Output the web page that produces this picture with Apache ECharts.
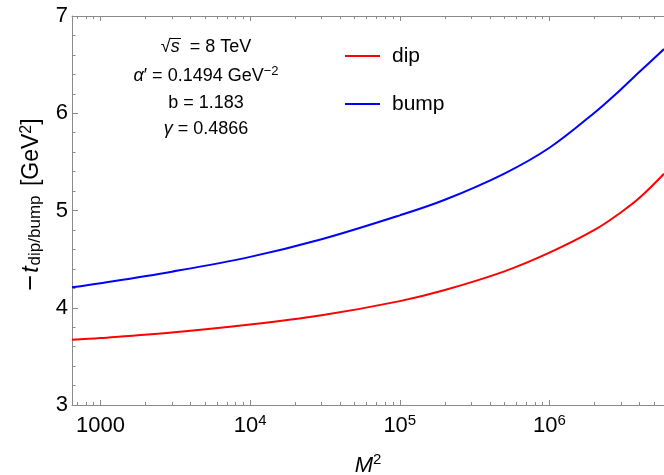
<!DOCTYPE html>
<html><head><meta charset="utf-8">
<script src="https://cdn.jsdelivr.net/npm/echarts@6/dist/echarts.min.js"></script>
<style>html,body{margin:0;padding:0;background:#fff}#c{width:664px;height:475px}</style>
</head><body><div id="c"></div>
<script>
// ---- data ----
const M2   = [645, 1000, 3000, 1e4, 3e4, 1e5, 2e5, 5e5, 1e6, 2e6, 3e6, 4e6, 5.83e6];
const dip  = [3.67, 3.689, 3.746, 3.827, 3.922, 4.068, 4.182, 4.374, 4.566, 4.80, 4.98, 5.13, 5.378];
const bump = [4.21, 4.252, 4.371, 4.523, 4.704, 4.950, 5.11, 5.38, 5.645, 6.006, 6.245, 6.426, 6.66];
const xMajorTicks = [1000, 10000, 100000, 1000000];
const xMinorTicks = [700, 800, 900,
  2000, 3000, 4000, 5000, 6000, 7000, 8000, 9000,
  20000, 30000, 40000, 50000, 60000, 70000, 80000, 90000,
  200000, 300000, 400000, 500000, 600000, 700000, 800000, 900000,
  2000000, 3000000, 4000000, 5000000];
const yTickLabels = ['3', '4', '5', '6', '7'];
const X_MIN = 645, X_MAX = 5.83e6;

const font = '"Liberation Sans", Arial, sans-serif';
const gray = '#8a8a8a';

function xLabel(v) {
  const e = Math.round(Math.log10(v));
  if (e === 3) return '{n|1000}';
  return '{n|10}{s|' + e + '}';
}
const xRich = {
  n: { fontSize: 22, lineHeight: 30, fontFamily: font, color: '#000' },
  s: { fontSize: 15, lineHeight: 14, padding: [0, 0, 10, 0], fontFamily: font, color: '#000' }
};
function logAxis(extra) {
  return Object.assign({
    type: 'log', logBase: 10, min: X_MIN, max: X_MAX, gridIndex: 0,
    splitLine: { show: false }, minorTick: { show: false }, minorSplitLine: { show: false }
  }, extra);
}

const chart = echarts.init(document.getElementById('c'), null, { renderer: 'canvas' });
chart.setOption({
  animation: false,
  backgroundColor: '#fff',
  grid: { left: 72, top: 16, right: 0, bottom: 70, outerBoundsMode: 'none', containLabel: false },
  legend: {
    orient: 'vertical', left: 340, top: 39, selectedMode: false,
    icon: 'rect', itemWidth: 35, itemHeight: 2, itemGap: 24,
    textStyle: { fontSize: 21, lineHeight: 24, fontFamily: font, color: '#000', padding: [0, 0, 0, 7] },
    data: ['dip', 'bump']
  },
  xAxis: [
    logAxis({
      position: 'bottom',
      axisLine: { show: true, lineStyle: { color: gray, width: 1 } },
      axisTick: { show: true, inside: true, length: 5, lineStyle: { color: gray }, customValues: xMajorTicks },
      axisLabel: { show: true, customValues: xMajorTicks, formatter: xLabel, rich: xRich, margin: 6 },
      name: '{i|M}{s|2}', nameLocation: 'middle', nameGap: 48,
      nameTextStyle: { rich: {
        i: { fontSize: 22, fontStyle: 'italic', lineHeight: 26, fontFamily: font, color: '#000' },
        s: { fontSize: 15, lineHeight: 14, padding: [0, 0, 12, 0], fontFamily: font, color: '#000' }
      } }
    }),
    logAxis({
      position: 'bottom', axisLine: { show: false },
      axisTick: { show: true, inside: true, length: 3, lineStyle: { color: gray }, customValues: xMinorTicks },
      axisLabel: { show: false }
    }),
    logAxis({
      position: 'top', axisLine: { show: true, lineStyle: { color: gray, width: 1 } },
      axisTick: { show: true, inside: true, length: 5, lineStyle: { color: gray }, customValues: xMajorTicks },
      axisLabel: { show: false }
    }),
    logAxis({
      position: 'top', axisLine: { show: false },
      axisTick: { show: true, inside: true, length: 3, lineStyle: { color: gray }, customValues: xMinorTicks },
      axisLabel: { show: false }
    })
  ],
  yAxis: {
    type: 'value', min: 3, max: 7, interval: 1,
    axisLine: { show: true, lineStyle: { color: gray, width: 1 } },
    axisTick: { show: true, inside: true, length: 6, lineStyle: { color: gray } },
    minorTick: { show: true, splitNumber: 5, length: 3.5, lineStyle: { color: gray } },
    splitLine: { show: false }, minorSplitLine: { show: false },
    axisLabel: { fontSize: 22, fontFamily: font, color: '#000', margin: 4,
      formatter: function (v) { return yTickLabels[Math.round(v) - 3]; } },
    name: '{mn|−}{i|t}{sub|dip/bump}{m| [GeV}{s|2}{m|]}',
    nameLocation: 'middle', nameGap: 27,
    nameTextStyle: { rich: {
      mn: { fontSize: 27, lineHeight: 26, padding: [0, 2, 0, 12], fontFamily: font, color: '#000' },
      m: { fontSize: 23, lineHeight: 26, fontFamily: font, color: '#000' },
      i: { fontSize: 23, lineHeight: 26, fontStyle: 'italic', fontFamily: font, color: '#000' },
      sub: { fontSize: 17, lineHeight: 15, padding: [8, 3, 0, 1], fontFamily: font, color: '#000' },
      s: { fontSize: 16, lineHeight: 15, padding: [0, 0, 10, 0], fontFamily: font, color: '#000' }
    } }
  },
  graphic: [
    { type: 'text', x: 206, y: 47, style: {
      text: '{n|√}{i|s}{n|  = 8 TeV}', align: 'center', verticalAlign: 'middle', fill: '#000',
      rich: { n: { fontSize: 18, fontFamily: font, color: '#000' },
              i: { fontSize: 18, fontStyle: 'italic', fontFamily: font, color: '#000' } } } },
    { type: 'line', shape: { x1: 170, y1: 38.5, x2: 181, y2: 38.5 }, style: { stroke: '#000', lineWidth: 1 } },
    { type: 'text', x: 206, y: 76, style: {
      text: '{i|α}{n|′ = 0.1494 GeV}{s|−2}', align: 'center', verticalAlign: 'middle', fill: '#000',
      rich: { n: { fontSize: 18, lineHeight: 24, fontFamily: font, color: '#000' },
              i: { fontSize: 18, lineHeight: 24, fontStyle: 'italic', fontFamily: font, color: '#000' },
              s: { fontSize: 13, lineHeight: 13, padding: [0, 0, 9, 0], fontFamily: font, color: '#000' } } } },
    { type: 'text', x: 206, y: 103, style: {
      text: 'b = 1.183', align: 'center', verticalAlign: 'middle', fill: '#000',
      fontSize: 18, fontFamily: font } },
    { type: 'text', x: 206, y: 129, style: {
      text: '{i|γ}{n| = 0.4866}', align: 'center', verticalAlign: 'middle', fill: '#000',
      rich: { n: { fontSize: 18, fontFamily: font, color: '#000' },
              i: { fontSize: 18, fontStyle: 'italic', fontFamily: font, color: '#000' } } } }
  ],
  series: [
    { name: 'dip', type: 'line', xAxisIndex: 0, yAxisIndex: 0,
      data: M2.map((x, i) => [x, dip[i]]), smooth: 0.35, showSymbol: false, symbol: 'none',
      lineStyle: { color: '#ff0000', width: 2 }, itemStyle: { color: '#ff0000' } },
    { name: 'bump', type: 'line', xAxisIndex: 0, yAxisIndex: 0,
      data: M2.map((x, i) => [x, bump[i]]), smooth: 0.35, showSymbol: false, symbol: 'none',
      lineStyle: { color: '#0000ff', width: 2 }, itemStyle: { color: '#0000ff' } }
  ]
});
</script></body></html>
